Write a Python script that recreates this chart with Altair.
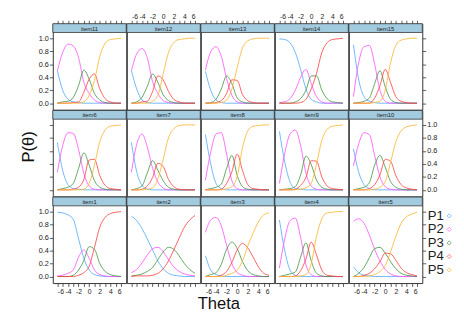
import altair as alt
import pandas as pd

FONT = "Liberation Sans Narrow, Arial Narrow, Liberation Sans, Arial, sans-serif"

theta = [-6, -5, -4, -3, -2, -1, 0, 1, 2, 3, 4, 5, 6]
y_ticks = [0.0, 0.2, 0.4, 0.6, 0.8, 1.0]
categories = ["P1", "P2", "P3", "P4", "P5"]
colors = ["#55aaff", "#ff55ff", "#469646", "#ff4444", "#ffb530"]

item1 = {
    "P1": [0.99, 0.98, 0.95, 0.88, 0.58, 0.28, 0.10, 0.03, 0.01, 0, 0, 0, 0],
    "P2": [0.01, 0.02, 0.05, 0.10, 0.30, 0.41, 0.28, 0.10, 0.03, 0.01, 0, 0, 0],
    "P3": [0, 0, 0, 0.02, 0.10, 0.25, 0.46, 0.42, 0.20, 0.08, 0.03, 0.01, 0],
    "P4": [0, 0, 0, 0, 0.02, 0.06, 0.16, 0.45, 0.76, 0.91, 0.97, 0.99, 1.0],
}
item2 = {
    "P1": [0.93, 0.86, 0.74, 0.58, 0.41, 0.24, 0.12, 0.05, 0.02, 0.01, 0, 0, 0],
    "P2": [0.06, 0.11, 0.21, 0.33, 0.43, 0.45, 0.38, 0.26, 0.15, 0.08, 0.04, 0.02, 0.01],
    "P3": [0.01, 0.02, 0.04, 0.08, 0.14, 0.26, 0.38, 0.45, 0.42, 0.32, 0.20, 0.11, 0.05],
    "P4": [0, 0.01, 0.01, 0.01, 0.02, 0.05, 0.12, 0.24, 0.41, 0.59, 0.76, 0.87, 0.94],
}
item3 = {
    "P1": [0.32, 0.10, 0.03, 0.01, 0, 0, 0, 0, 0, 0, 0, 0, 0],
    "P2": [0.68, 0.87, 0.91, 0.78, 0.48, 0.20, 0.06, 0.02, 0, 0, 0, 0, 0],
    "P3": [0, 0.03, 0.06, 0.19, 0.42, 0.53, 0.43, 0.23, 0.09, 0.03, 0.01, 0, 0],
    "P4": [0, 0, 0, 0.02, 0.08, 0.22, 0.41, 0.51, 0.44, 0.30, 0.15, 0.05, 0.02],
    "P5": [0, 0, 0, 0, 0.02, 0.05, 0.10, 0.24, 0.47, 0.67, 0.84, 0.95, 0.98],
}
item4 = {
    "P1": [0.87, 0.40, 0.10, 0.02, 0, 0, 0, 0, 0, 0, 0, 0, 0],
    "P2": [0.13, 0.58, 0.86, 0.90, 0.60, 0.18, 0.03, 0, 0, 0, 0, 0, 0],
    "P3": [0, 0.02, 0.04, 0.07, 0.30, 0.52, 0.24, 0.05, 0.01, 0, 0, 0, 0],
    "P4": [0, 0, 0, 0.01, 0.09, 0.27, 0.53, 0.33, 0.10, 0.02, 0.01, 0, 0],
    "P5": [0, 0, 0, 0, 0.01, 0.03, 0.20, 0.62, 0.89, 0.98, 0.99, 1.0, 1.0],
}
item5 = {
    "P1": [0.15, 0.06, 0.02, 0.01, 0, 0, 0, 0, 0, 0, 0, 0, 0],
    "P2": [0.85, 0.89, 0.82, 0.64, 0.42, 0.24, 0.11, 0.04, 0.01, 0, 0, 0, 0],
    "P3": [0, 0.05, 0.14, 0.29, 0.43, 0.45, 0.36, 0.23, 0.12, 0.05, 0.02, 0.01, 0],
    "P4": [0, 0, 0.02, 0.05, 0.12, 0.23, 0.36, 0.35, 0.25, 0.13, 0.06, 0.03, 0.01],
    "P5": [0, 0, 0, 0.01, 0.03, 0.08, 0.17, 0.38, 0.62, 0.82, 0.92, 0.96, 0.99],
}
item6 = {
    "P1": [0.73, 0.30, 0.08, 0.02, 0.01, 0, 0, 0, 0, 0, 0, 0, 0],
    "P2": [0.27, 0.68, 0.88, 0.87, 0.62, 0.25, 0.06, 0.01, 0, 0, 0, 0, 0],
    "P3": [0, 0.02, 0.04, 0.10, 0.33, 0.57, 0.38, 0.14, 0.04, 0.01, 0, 0, 0],
    "P4": [0, 0, 0, 0.01, 0.04, 0.16, 0.46, 0.47, 0.22, 0.07, 0.02, 0.01, 0],
    "P5": [0, 0, 0, 0, 0, 0.01, 0.10, 0.38, 0.74, 0.92, 0.98, 0.99, 1.0],
}
item7 = {
    "P1": [0.73, 0.28, 0.07, 0.01, 0, 0, 0, 0, 0, 0, 0, 0, 0],
    "P2": [0.27, 0.70, 0.86, 0.66, 0.33, 0.12, 0.03, 0, 0, 0, 0, 0, 0],
    "P3": [0, 0.02, 0.06, 0.26, 0.45, 0.30, 0.14, 0.04, 0.01, 0, 0, 0, 0],
    "P4": [0, 0, 0.01, 0.06, 0.19, 0.41, 0.36, 0.16, 0.05, 0.01, 0, 0, 0],
    "P5": [0, 0, 0, 0.01, 0.03, 0.17, 0.47, 0.80, 0.94, 0.99, 1.0, 1.0, 1.0],
}
item8 = {
    "P1": [0.85, 0.40, 0.10, 0.02, 0, 0, 0, 0, 0, 0, 0, 0, 0],
    "P2": [0.15, 0.58, 0.86, 0.88, 0.55, 0.14, 0.02, 0, 0, 0, 0, 0, 0],
    "P3": [0, 0.02, 0.04, 0.09, 0.33, 0.53, 0.22, 0.05, 0.01, 0, 0, 0, 0],
    "P4": [0, 0, 0, 0.01, 0.10, 0.28, 0.55, 0.30, 0.08, 0.02, 0.01, 0, 0],
    "P5": [0, 0, 0, 0, 0.02, 0.05, 0.21, 0.65, 0.91, 0.98, 0.99, 1.0, 1.0],
}
item9 = {
    "P1": [0.90, 0.43, 0.12, 0.02, 0.01, 0, 0, 0, 0, 0, 0, 0, 0],
    "P2": [0.10, 0.56, 0.86, 0.92, 0.68, 0.26, 0.06, 0.01, 0, 0, 0, 0, 0],
    "P3": [0, 0.01, 0.02, 0.05, 0.23, 0.52, 0.39, 0.15, 0.04, 0.01, 0, 0, 0],
    "P4": [0, 0, 0, 0.01, 0.07, 0.19, 0.45, 0.44, 0.20, 0.06, 0.02, 0.01, 0],
    "P5": [0, 0, 0, 0, 0.01, 0.03, 0.10, 0.40, 0.76, 0.93, 0.98, 0.99, 1.0],
}
item10 = {
    "P1": [0.63, 0.27, 0.08, 0.02, 0, 0, 0, 0, 0, 0, 0, 0, 0],
    "P2": [0.37, 0.71, 0.88, 0.85, 0.53, 0.20, 0.05, 0.01, 0, 0, 0, 0, 0],
    "P3": [0, 0.02, 0.04, 0.11, 0.38, 0.53, 0.35, 0.13, 0.04, 0.01, 0, 0, 0],
    "P4": [0, 0, 0, 0.02, 0.08, 0.23, 0.47, 0.44, 0.22, 0.08, 0.03, 0.01, 0],
    "P5": [0, 0, 0, 0, 0.01, 0.04, 0.13, 0.42, 0.74, 0.91, 0.97, 0.99, 1.0],
}
item11 = {
    "P1": [0.50, 0.20, 0.06, 0.02, 0.01, 0, 0, 0, 0, 0, 0, 0, 0],
    "P2": [0.50, 0.78, 0.91, 0.88, 0.70, 0.32, 0.15, 0.05, 0.01, 0, 0, 0, 0],
    "P3": [0, 0.02, 0.03, 0.09, 0.27, 0.51, 0.37, 0.15, 0.05, 0.01, 0, 0, 0],
    "P4": [0, 0, 0, 0.01, 0.02, 0.17, 0.37, 0.45, 0.22, 0.07, 0.02, 0, 0],
    "P5": [0, 0, 0, 0, 0, 0.02, 0.12, 0.35, 0.72, 0.92, 0.98, 0.99, 1.0],
}
item12 = {
    "P1": [0.50, 0.22, 0.05, 0.01, 0, 0, 0, 0, 0, 0, 0, 0, 0],
    "P2": [0.50, 0.76, 0.84, 0.70, 0.33, 0.15, 0.04, 0.01, 0, 0, 0, 0, 0],
    "P3": [0, 0.02, 0.09, 0.26, 0.45, 0.32, 0.13, 0.04, 0.01, 0, 0, 0, 0],
    "P4": [0, 0, 0.02, 0.03, 0.18, 0.42, 0.36, 0.18, 0.06, 0.02, 0, 0, 0],
    "P5": [0, 0, 0, 0, 0.03, 0.12, 0.45, 0.78, 0.93, 0.98, 0.99, 1.0, 1.0],
}
item13 = {
    "P1": [0.49, 0.20, 0.05, 0.01, 0, 0, 0, 0, 0, 0, 0, 0, 0],
    "P2": [0.51, 0.79, 0.87, 0.72, 0.38, 0.12, 0.02, 0, 0, 0, 0, 0, 0],
    "P3": [0, 0.01, 0.06, 0.22, 0.42, 0.30, 0.08, 0.02, 0, 0, 0, 0, 0],
    "P4": [0, 0, 0.01, 0.04, 0.15, 0.36, 0.35, 0.13, 0.04, 0.01, 0, 0, 0],
    "P5": [0, 0, 0, 0.01, 0.05, 0.22, 0.55, 0.85, 0.96, 0.99, 1.0, 1.0, 1.0],
}
item14 = {
    "P1": [0.99, 0.98, 0.93, 0.78, 0.52, 0.22, 0.06, 0.02, 0, 0, 0, 0, 0],
    "P2": [0.01, 0.02, 0.07, 0.20, 0.40, 0.52, 0.30, 0.10, 0.02, 0, 0, 0, 0],
    "P3": [0, 0, 0, 0.02, 0.07, 0.20, 0.42, 0.42, 0.20, 0.07, 0.02, 0.01, 0],
    "P4": [0, 0, 0, 0, 0.01, 0.06, 0.22, 0.46, 0.78, 0.93, 0.98, 0.99, 1.0],
}
item15 = {
    "P1": [0.90, 0.36, 0.10, 0.03, 0.01, 0, 0, 0, 0, 0, 0, 0, 0],
    "P2": [0.10, 0.63, 0.87, 0.89, 0.60, 0.20, 0.03, 0, 0, 0, 0, 0, 0],
    "P3": [0, 0.01, 0.03, 0.08, 0.30, 0.50, 0.25, 0.06, 0.01, 0, 0, 0, 0],
    "P4": [0, 0, 0, 0, 0.08, 0.27, 0.52, 0.32, 0.10, 0.03, 0.01, 0, 0],
    "P5": [0, 0, 0, 0, 0.01, 0.03, 0.20, 0.62, 0.89, 0.97, 0.99, 1.0, 1.0],
}

items = {
    "item1": item1, "item2": item2, "item3": item3, "item4": item4, "item5": item5,
    "item6": item6, "item7": item7, "item8": item8, "item9": item9, "item10": item10,
    "item11": item11, "item12": item12, "item13": item13, "item14": item14, "item15": item15,
}
grid_rows = [
    ["item11", "item12", "item13", "item14", "item15"],
    ["item6", "item7", "item8", "item9", "item10"],
    ["item1", "item2", "item3", "item4", "item5"],
]

W = 75.4
H = 88.3
STRIP = 9
XR = [4.7, 70.0]
YR = [81.6, 14.9]
STRIP_FILL = "#a3cbe0"
INK = "#333333"


def item_frame(name):
    recs = []
    for cat in categories:
        if cat in items[name]:
            for t, v in zip(theta, items[name][cat]):
                recs.append({"theta": t, "p": v, "cat": cat})
    return pd.DataFrame(recs)


def make_axis(kind, orient, labels, title=None, **extra):
    kw = dict(orient=orient, domain=False, grid=False, ticks=True, tickSize=3.5,
              tickWidth=0.8, tickColor=INK, labels=labels, labelFont=FONT,
              labelFontSize=7, labelColor="#222222", labelPadding=1, title=title)
    if kind == "x":
        kw.update(values=theta,
                  labelExpr="datum.value % 2 == 0 ? toString(datum.value) : ''",
                  labelOverlap=False, labelAngle=0)
    else:
        kw.update(values=y_ticks, format=".1f", labelOverlap=False, labelFontSize=7.5)
    if title:
        kw.update(titleFont=FONT, titleFontSize=17, titleFontWeight="normal",
                  titleColor="#111111")
    kw.update(extra)
    return alt.Axis(**kw)


def make_panel(name, r, c):
    if r == 0:
        xaxis = make_axis("x", "top", c in (1, 3))
    elif r == 2:
        if c == 2:
            xaxis = make_axis("x", "bottom", True, "Theta", titleX=18, titlePadding=2)
        else:
            xaxis = make_axis("x", "bottom", c in (0, 2, 4))
    else:
        xaxis = None
    if c == 0:
        if r == 1:
            yaxis = make_axis("y", "left", False, "P(θ)", titlePadding=12, titleY=37)
        else:
            yaxis = make_axis("y", "left", r in (0, 2))
    elif c == 4:
        yaxis = make_axis("y", "right", r == 1)
    else:
        yaxis = None

    xs = alt.Scale(domain=[-6, 6], range=XR, nice=False, zero=False)
    ys = alt.Scale(domain=[0, 1], range=YR, nice=False, zero=False)
    lines = alt.Chart(item_frame(name)).mark_line(
        strokeWidth=1, interpolate="monotone", opacity=0.85
    ).encode(
        x=alt.X("theta:Q", scale=xs, axis=xaxis),
        y=alt.Y("p:Q", scale=ys, axis=yaxis),
        color=alt.Color("cat:N", scale=alt.Scale(domain=categories, range=colors), legend=None),
        detail="cat:N",
    )
    sdf = pd.DataFrame({"item": [name]})
    strip = alt.Chart(sdf).mark_rect(fill=STRIP_FILL, stroke=INK, strokeWidth=0.8).encode(
        x=alt.value(0), x2=alt.value(W), y=alt.value(0), y2=alt.value(STRIP)
    )
    label = alt.Chart(sdf).mark_text(
        font=FONT, fontSize=6, color="#222222", baseline="middle", align="center"
    ).encode(x=alt.value(W / 2), y=alt.value(STRIP / 2 + 0.5), text="item:N")
    layers = [strip, label, lines]
    if r == 2 and c == 4:
        for i, (cat, col) in enumerate(zip(categories, colors)):
            ldf = pd.DataFrame({"cat": [cat]})
            layers.append(
                alt.Chart(ldf).mark_text(
                    font=FONT, fontSize=13.5, color="#222222", align="left", baseline="middle"
                ).encode(x=alt.value(W + 5.6), y=alt.value(19.3 + 13.9 * i), text="cat:N")
            )
            layers.append(
                alt.Chart(ldf).mark_point(
                    shape="diamond", filled=False, size=18, strokeWidth=1, color=col
                ).encode(x=alt.value(W + 27.6), y=alt.value(19.3 + 13.9 * i))
            )
    return alt.layer(*layers).properties(width=W, height=H)


panels = [make_panel(name, r, c) for r, row in enumerate(grid_rows) for c, name in enumerate(row)]

chart = alt.concat(*panels, columns=5, spacing=0, bounds="flush").properties(
    padding={"left": 11, "top": 0, "right": 2, "bottom": 0},
    background="white",
).configure_view(stroke=INK, strokeWidth=1)

chart.save("out.html", embed_options={"renderer": "svg", "actions": False})
